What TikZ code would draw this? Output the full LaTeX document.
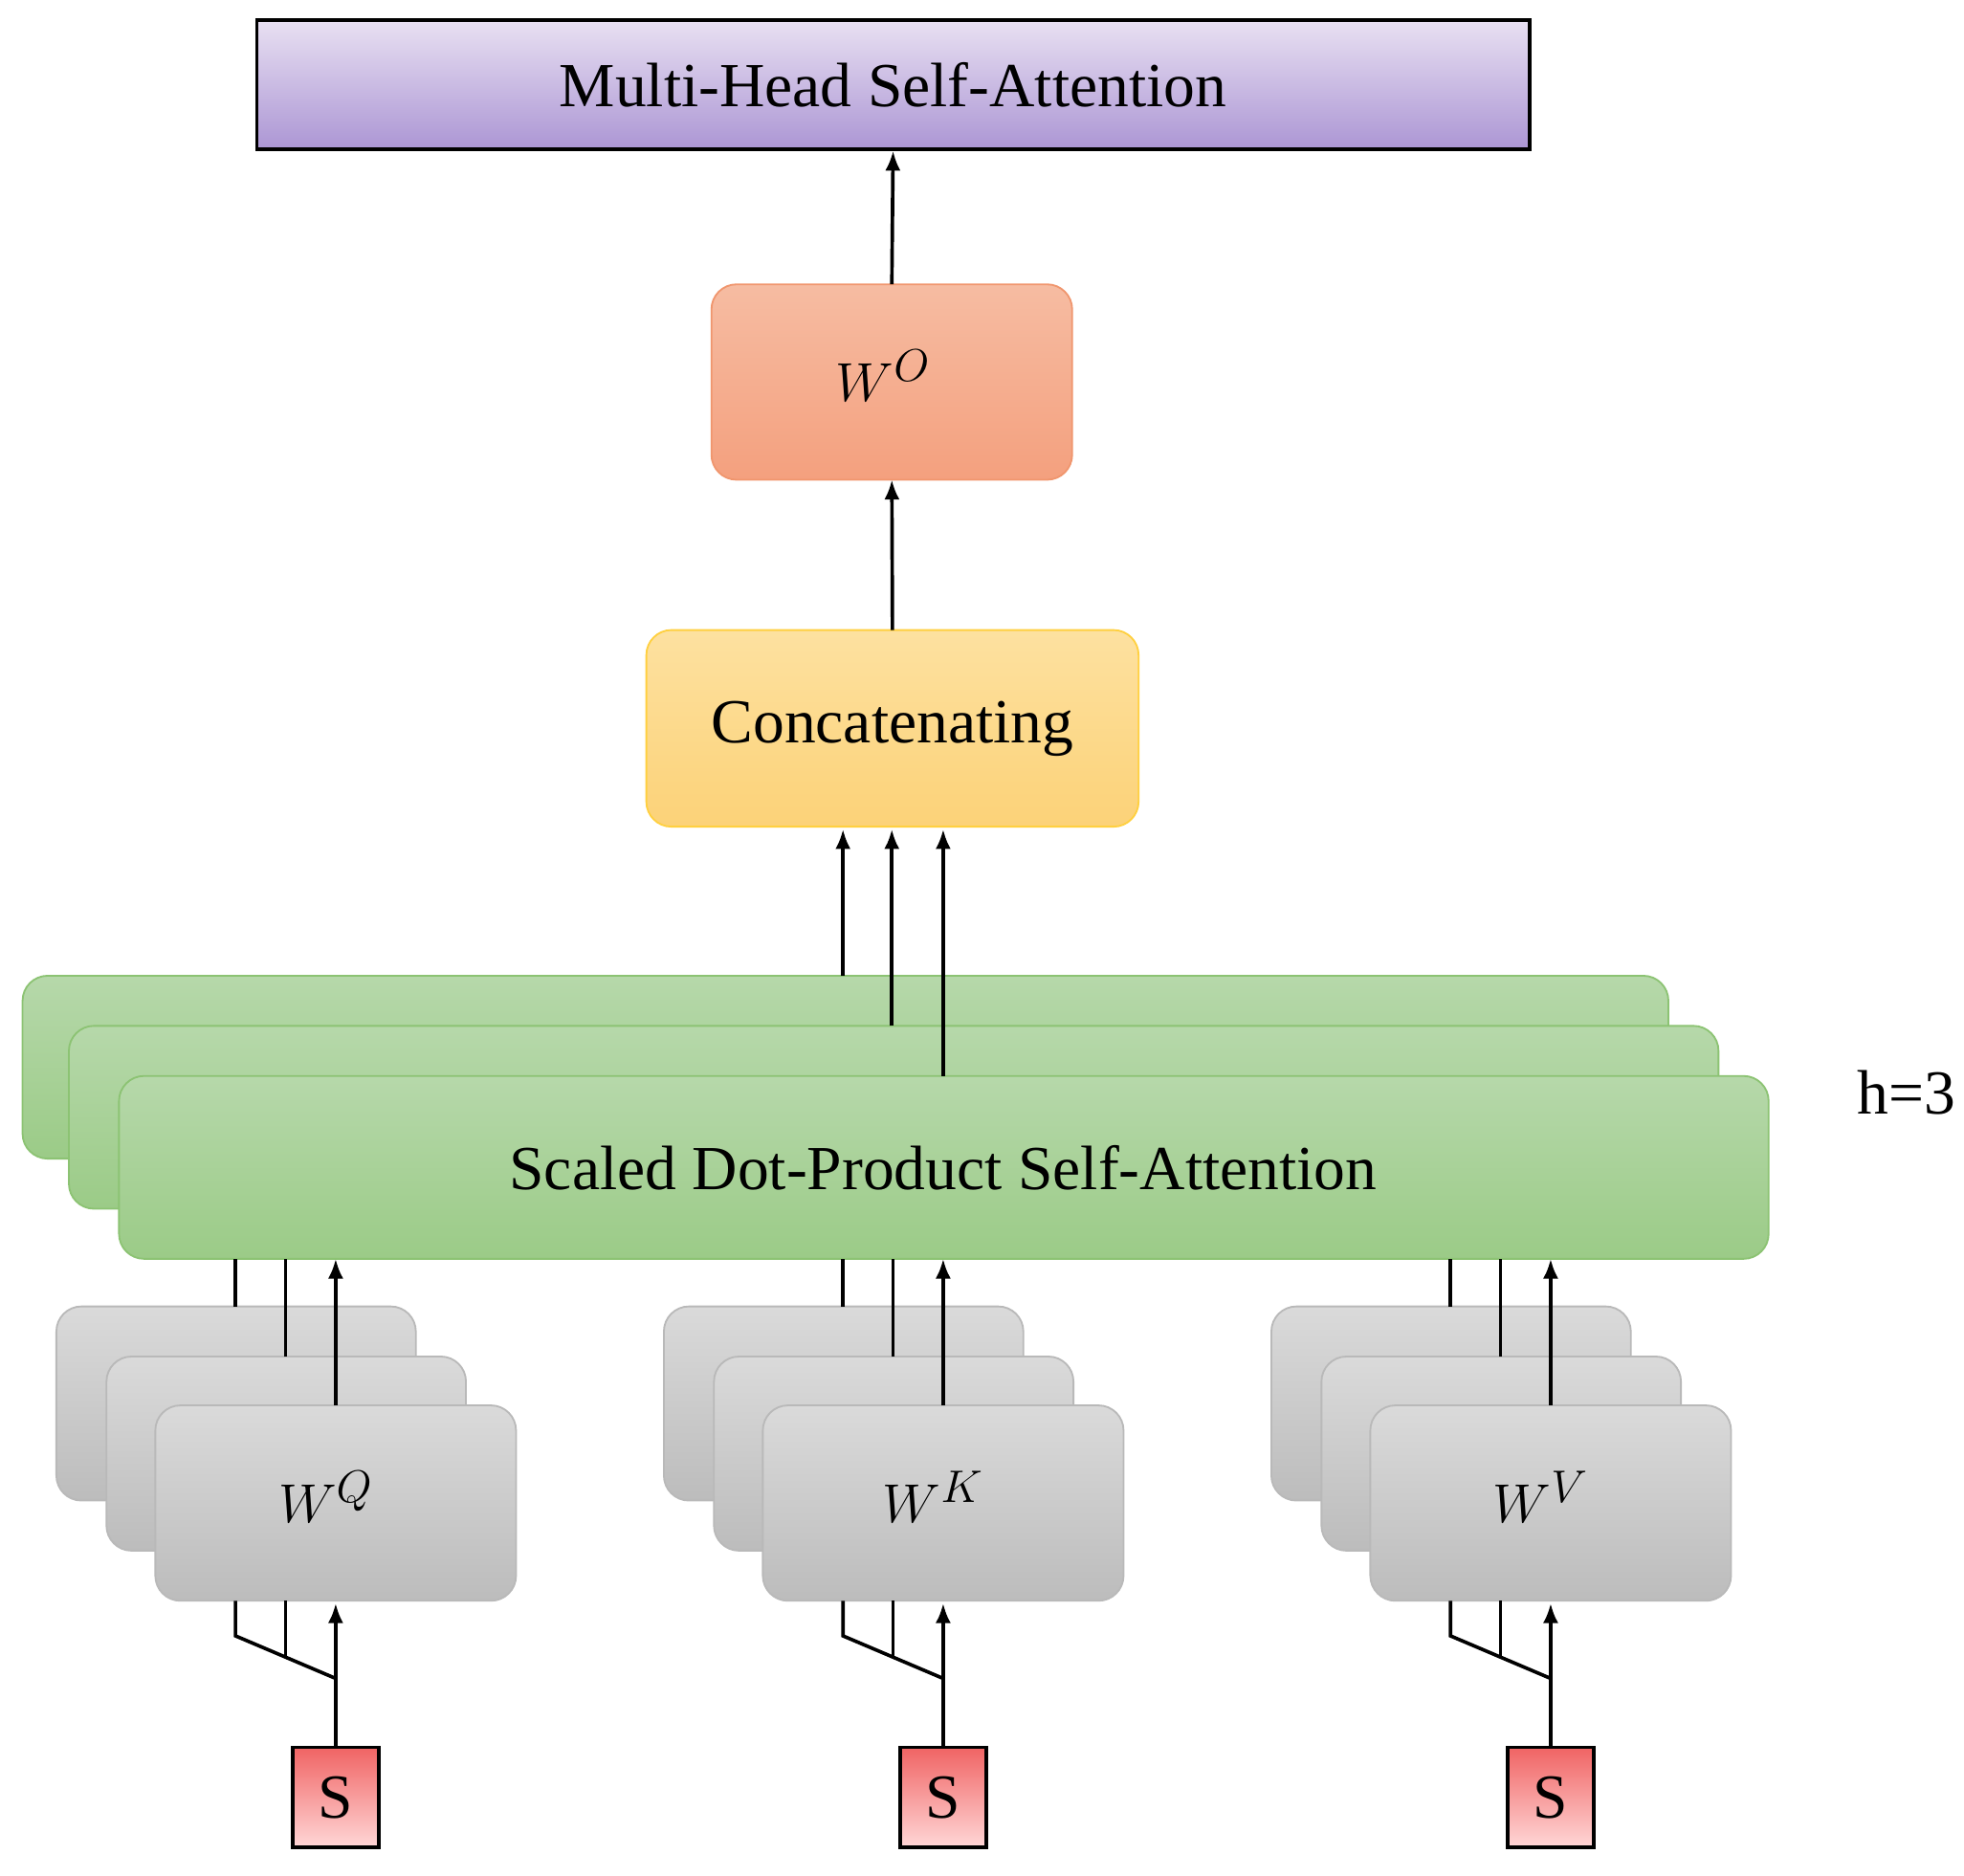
\documentclass[tikz,border=0pt]{standalone}
\usepackage{fontspec}
\setmainfont{Liberation Serif}
\usetikzlibrary{arrows.meta}
\begin{document}
\begin{tikzpicture}[x=0.02cm,y=-0.02cm,
  bx/.style={rectangle,inner sep=0,outer sep=0,rounded corners=0.4cm,line width=0.8pt},
  green/.style={bx,top color={rgb,255:red,182;green,216;blue,170},bottom color={rgb,255:red,155;green,203;blue,135},draw={rgb,255:red,140;green,195;blue,115}},
  gray/.style={bx,top color={rgb,255:red,218;green,218;blue,218},bottom color={rgb,255:red,188;green,188;blue,188},draw={rgb,255:red,185;green,185;blue,185}},
  ar/.style={-{Latex[length=9pt,width=7pt]},line width=1.6pt},
  ln/.style={line width=1.6pt},
  big/.style={font=\fontsize{28.5}{33}\selectfont}]
\useasboundingbox (0,0) rectangle (1568,1497);
\newcommand{\mybox}[6]{\node[#6,minimum width={((#4)-(#2))*0.02cm},minimum height={((#5)-(#3))*0.02cm}] (#1) at ({((#2)+(#4))/2},{((#3)+(#5))/2}) {};}
% top
\mybox{mhsa}{205}{16}{1221}{119}{rectangle,inner sep=0,top color={rgb,255:red,232;green,224;blue,242},bottom color={rgb,255:red,172;green,150;blue,212},draw=black,line width=1.6pt}
\node[big] at (mhsa) {Multi-Head Self-Attention};
\mybox{wo}{568}{227}{856}{383}{bx,top color={rgb,255:red,246;green,188;blue,162},bottom color={rgb,255:red,244;green,160;blue,126},draw={rgb,255:red,240;green,150;blue,110}}
\node[font=\fontsize{32}{36}\selectfont] at (705,300) {$W^{O}$};
\mybox{cat}{516}{503}{909}{660}{bx,top color={rgb,255:red,253;green,225;blue,160},bottom color={rgb,255:red,252;green,210;blue,120},draw={rgb,255:red,255;green,208;blue,64}}
\node[big] at (cat) {Concatenating};
\draw[ar] (wo.north) -- (mhsa.south);
\draw[ar] (cat.north) -- (wo.south);
% green
\mybox{g1}{18}{779}{1332}{925}{green}
\mybox{g2}{55}{819}{1372}{965}{green}
\mybox{g3}{95}{859}{1412}{1005}{green}
\node[big] at (753,932) {Scaled Dot-Product Self-Attention};
\coordinate (c1) at (673,662); \coordinate (c2) at (712,662); \coordinate (c3) at (753,662);
\draw[ar] (673,779) -- (c1);
\draw[ar] (712,819) -- (c2);
\draw[ar] (753,859) -- (c3);
\node[big] (h) at (1522,872) {h=3};
% groups
\foreach \o/\n/\lab in {0/q/Q,485/k/K,970/v/V}{
  \mybox{\n a}{45+\o}{1043}{332+\o}{1198}{gray}
  \mybox{\n b}{85+\o}{1083}{372+\o}{1238}{gray}
  \mybox{\n c}{124+\o}{1122}{412+\o}{1278}{gray}
  \node[font=\fontsize{32}{36}\selectfont] at (260+\o,1195) {$W^{\lab}$};
  \draw[ln] (188+\o,1043) -- (188+\o,1005);
  \draw[ln] (228+\o,1083) -- (228+\o,1005);
  \draw[ar] (268+\o,1122) -- (268+\o,1005);
  \node[rectangle,minimum width=1.38cm,minimum height=1.6cm,inner sep=0,draw=black,line width=1.6pt,top color={rgb,255:red,240;green,100;blue,100},bottom color={rgb,255:red,255;green,215;blue,215},font=\fontsize{28.5}{33}\selectfont] (\n s) at (268+\o,1435) {S};
  \draw[ar] (\n s.north) -- (268+\o,1280);
  \draw[ln] (268+\o,1340) -- (188+\o,1306) -- (188+\o,1278);
  \draw[ln] (228+\o,1323) -- (228+\o,1278);
}
\end{tikzpicture}
\end{document}
